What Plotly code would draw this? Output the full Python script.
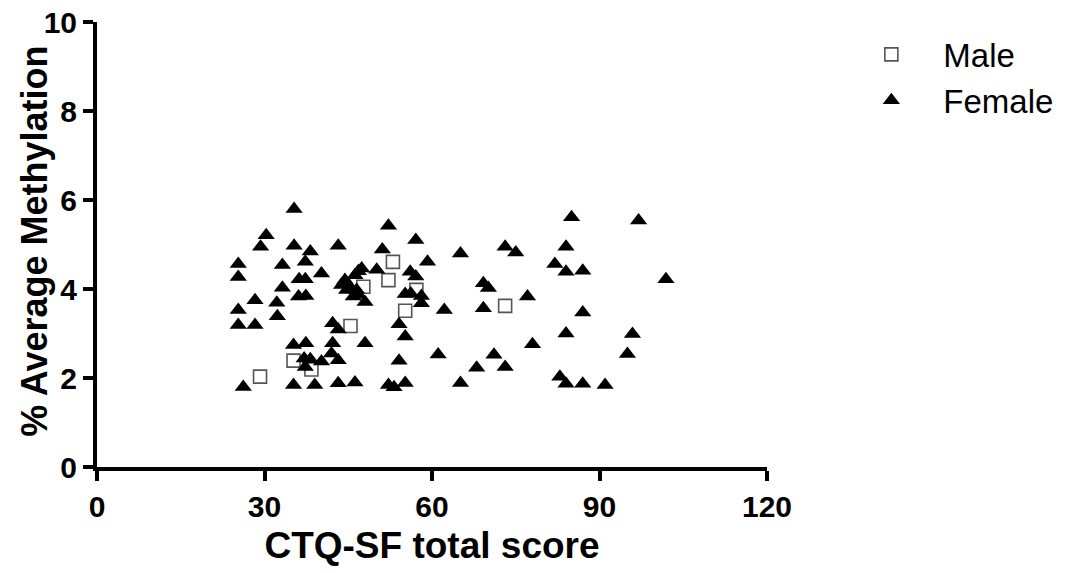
import plotly.graph_objects as go

# Female (filled triangles)
female_x = [26.2, 25.3, 25.3, 25.3, 25.3, 28.3, 28.3, 29.3, 30.3, 32.2, 32.3, 33.2, 33.2,
            35.3, 35.3, 35.2, 35.2, 36.1, 36.2, 37.3, 37.3, 37.4, 37.4, 37.1, 37.3, 38.2,
            38.2, 39.0, 40.2, 40.2, 42.2, 42.2, 42.0, 43.2, 43.2, 43.2, 43.2, 43.8, 44.4,
            44.7, 45.3, 45.9, 46.2, 46.5, 46.8, 46.8, 47.4, 46.2, 48.0, 48.0, 50.1, 51.1,
            52.2, 52.2, 53.2, 54.1, 54.1, 55.2, 55.2, 55.2, 56.1, 56.2, 57.1, 57.1, 58.1,
            58.1, 59.2, 61.1, 62.2, 65.1, 65.1, 68.0, 69.2, 70.1, 69.2, 71.1, 73.1, 73.1,
            75.0, 77.1, 78.0, 82.0, 82.9, 84.0, 84.0, 84.0, 84.0, 85.0, 87.0, 87.0, 87.0,
            91.0, 95.0, 95.9, 97.0, 101.9]
female_y = [1.80, 4.56, 4.27, 3.53, 3.19, 3.19, 3.75, 4.95, 5.21, 3.69, 3.39, 4.54, 4.03,
            5.80, 4.97, 2.74, 1.84, 3.83, 4.22, 4.22, 4.61, 3.84, 2.78, 2.44, 2.25, 4.84,
            2.42, 1.84, 4.35, 2.37, 3.23, 2.78, 2.55, 4.97, 3.09, 2.40, 1.88, 4.09, 4.20,
            3.98, 4.05, 3.83, 4.31, 3.98, 3.87, 4.40, 4.46, 1.90, 3.71, 2.78, 4.43, 4.89,
            5.42, 1.84, 1.79, 3.21, 2.39, 3.89, 2.93, 1.89, 4.39, 3.90, 5.10, 4.28, 3.84,
            3.68, 4.61, 2.53, 3.53, 4.80, 1.89, 2.23, 4.13, 4.02, 3.57, 2.52, 4.95, 2.25,
            4.82, 3.83, 2.76, 4.56, 2.03, 4.95, 4.39, 3.00, 1.87, 5.61, 4.41, 3.47, 1.87,
            1.84, 2.54, 2.99, 5.54, 4.22]

# Male (open squares)
male_x = [29.2, 35.2, 38.4, 45.4, 47.7, 52.2, 53.0, 57.2, 55.2, 73.1]
male_y = [2.03, 2.39, 2.19, 3.17, 4.05, 4.20, 4.61, 3.98, 3.51, 3.62]

x_ticks = [0, 30, 60, 90, 120]
y_ticks = [0, 2, 4, 6, 8, 10]

FONT = "Liberation Sans, Arial, sans-serif"

fig = go.Figure()
fig.add_trace(go.Scatter(
    x=male_x, y=male_y, mode="markers", name="Male", legendgroup="m",
    marker=dict(symbol="square-open", size=13, color="#555555", line=dict(width=1.6, color="#555555")),
))
fig.add_trace(go.Scatter(
    x=female_x, y=female_y, mode="markers", name="Female", legendgroup="f",
    marker=dict(symbol="triangle-up", size=15, color="black", line=dict(width=0)),
))

axis_common = dict(
    showline=True, linewidth=4, linecolor="black", mirror=False,
    ticks="outside", ticklen=10, tickwidth=4, tickcolor="black",
    showgrid=False, zeroline=False, automargin=False,
    tickfont=dict(family=FONT, size=30, color="black", weight="bold"),
)

fig.update_layout(
    width=1066, height=573,
    margin=dict(l=97, r=299, t=22, b=106, autoexpand=False),
    paper_bgcolor="white", plot_bgcolor="white",
    xaxis=dict(range=[0, 120], tickvals=x_ticks, ticktext=[str(t) for t in x_ticks],
               title=dict(text="CTQ-SF total score", standoff=11,
                          font=dict(family=FONT, size=37, color="black", weight="bold")),
               **axis_common),
    yaxis=dict(range=[0, 10], tickvals=y_ticks, ticktext=[str(t) for t in y_ticks],
               **axis_common),
    annotations=[dict(text="% Average Methylation", textangle=-90,
                      xref="paper", yref="paper", x=-0.0925, y=0.506,
                      xanchor="center", yanchor="middle", showarrow=False,
                      font=dict(family=FONT, size=36, color="black", weight="bold"))],
    legend=dict(x=1.108, xanchor="left", y=0.99, yanchor="top",
                font=dict(family=FONT, size=33, color="black"),
                tracegroupgap=0, itemwidth=94, bgcolor="rgba(0,0,0,0)"),
    showlegend=True,
)

fig.write_html("out.html")
